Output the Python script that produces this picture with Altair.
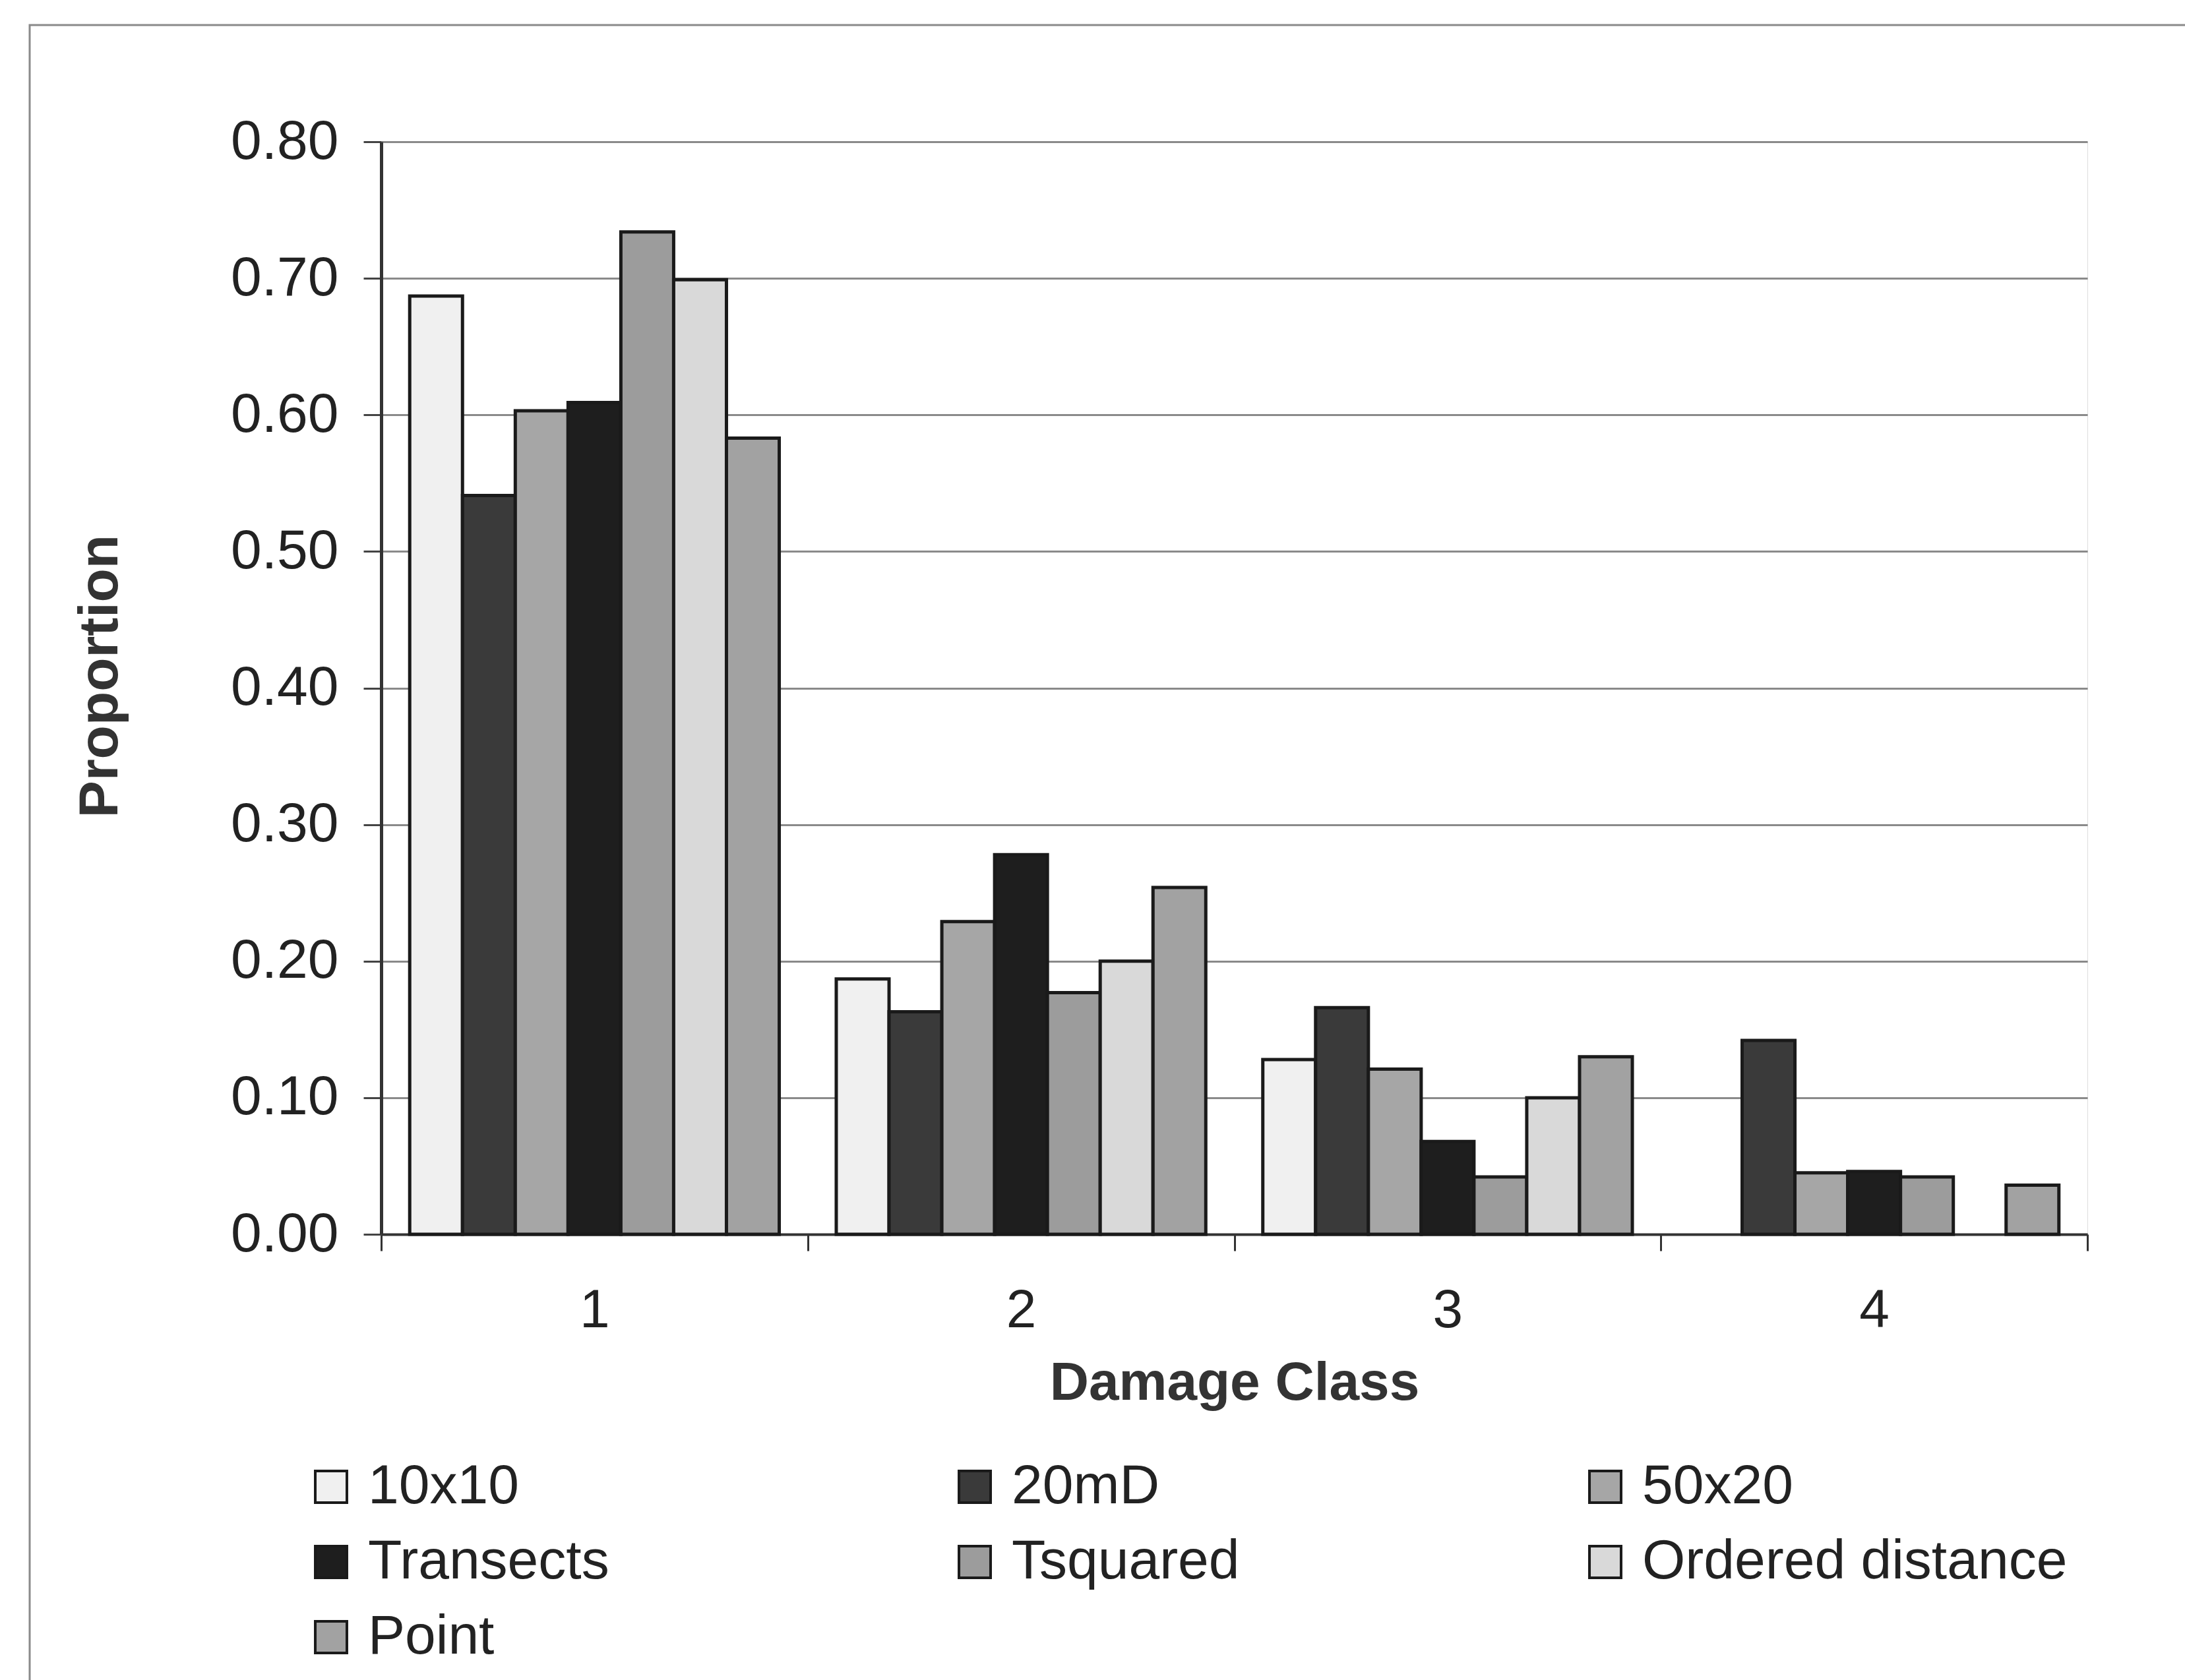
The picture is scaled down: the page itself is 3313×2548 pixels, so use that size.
import altair as alt
import pandas as pd

classes = ["1", "2", "3", "4"]
methods = ["10x10", "20mD", "50x20", "Transects", "Tsquared", "Ordered distance", "Point"]
colors = ["#f0f0f0", "#3a3a3a", "#a6a6a6", "#1e1e1e", "#9c9c9c", "#d9d9d9", "#a2a2a2"]
class1 = [0.687, 0.541, 0.603, 0.609, 0.734, 0.699, 0.583]
class2 = [0.187, 0.163, 0.229, 0.278, 0.177, 0.200, 0.254]
class3 = [0.128, 0.166, 0.121, 0.068, 0.042, 0.100, 0.130]
class4 = [None, 0.142, 0.045, 0.046, 0.042, None, 0.036]
y_ticks = [0.0, 0.1, 0.2, 0.3, 0.4, 0.5, 0.6, 0.7, 0.8]

rows = []
for c, vals in zip(classes, [class1, class2, class3, class4]):
    for m, v in zip(methods, vals):
        if v is not None:
            rows.append({"cls": c, "method": m, "value": v})
df = pd.DataFrame(rows)

FONT = "Liberation Sans"
W, H = 2587, 1657
PL, PT = 578, 215

bars = alt.Chart(df).mark_bar(stroke="#1a1a1a", strokeWidth=5).encode(
    x=alt.X("cls:N", sort=classes,
            scale=alt.Scale(paddingInner=0, paddingOuter=0),
            axis=alt.Axis(title="Damage Class", labelAngle=0, tickBand="extent",
                          ticks=True, tickSize=25, tickWidth=3, tickColor="#333",
                          domainColor="#333", domainWidth=4,
                          labelFontSize=82, labelFont=FONT, labelColor="#222",
                          labelPadding=50,
                          titleFontSize=82, titleFont=FONT, titleFontWeight="bold",
                          titleColor="#333", titleY=225, titleBaseline="middle")),
    xOffset=alt.XOffset("method:N",
                        scale=alt.Scale(domain=methods, paddingInner=0, paddingOuter=0.54)),
    y=alt.Y("value:Q", scale=alt.Scale(domain=[0, 0.8], nice=False),
            axis=alt.Axis(title="Proportion", values=y_ticks, format=".2f",
                          grid=True, gridColor="#8a8a8a", gridWidth=3,
                          ticks=True, tickSize=27, tickWidth=3, tickColor="#444",
                          domainColor="#333", domainWidth=5,
                          labelFontSize=84, labelFont=FONT, labelColor="#222",
                          labelPadding=38,
                          titleFontSize=84, titleFont=FONT, titleFontWeight="bold",
                          titleColor="#333", titleX=-426, titleY=810,
                          titleBaseline="middle", titleAngle=270)),
    color=alt.Color("method:N",
                    scale=alt.Scale(domain=methods, range=colors),
                    legend=alt.Legend(title=None, orient="none", direction="horizontal",
                                      legendX=-118, legendY=1998, values=methods,
                                      columns=3, columnPadding=512, rowPadding=30,
                                      symbolType="square", symbolSize=2300,
                                      symbolStrokeColor="#1a1a1a", symbolStrokeWidth=4,
                                      symbolOpacity=1,
                                      labelFontSize=84, labelFont=FONT, labelColor="#222",
                                      labelOffset=14, padding=0, labelLimit=0)),
)

frame_df = pd.DataFrame({"k": [0]})
frame = alt.Chart(frame_df).mark_rect(fill=None, stroke="#8a8a8a", strokeWidth=3).encode(
    x=alt.value(45 - PL), y=alt.value(38 - PT),
    x2=alt.value(3313 - PL + 40), y2=alt.value(2548 - PT + 40),
)

chart = alt.layer(frame, bars).properties(
    width=W, height=H,
    padding={"left": PL, "top": PT, "right": 3313 - PL - W, "bottom": 2548 - PT - H},
    autosize=alt.AutoSizeParams(type="none"),
).configure_view(stroke="#555", strokeWidth=4).configure(background="white")

chart.save("out.html", embed_options={"renderer": "svg", "actions": False})
